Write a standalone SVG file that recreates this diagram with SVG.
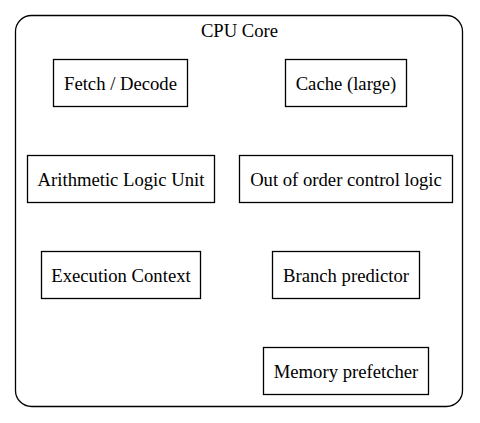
<svg xmlns="http://www.w3.org/2000/svg" width="480" height="423" viewBox="0 0 480 423">
<style>
.box{fill:#fff;stroke:#000;stroke-width:1.3}
.lbl{font-family:"Liberation Serif","Times New Roman",serif;font-size:18.67px;fill:#000;text-anchor:middle}
</style>
<rect width="480" height="423" fill="#fff"/>
<g id="cpu-core">
<rect x="15.5" y="15.5" width="447" height="391" rx="16" ry="16" fill="none" stroke="#000" stroke-width="1.3"/>
<text class="lbl" x="239.5" y="37">CPU Core</text>
</g>
<g id="connectors"></g>
<g id="fetch-decode">
<rect class="box" x="53.5" y="59.5" width="134" height="47"/>
<text class="lbl" x="120.5" y="89.5">Fetch / Decode</text>
</g>
<g id="cache">
<rect class="box" x="285.5" y="59.5" width="121" height="47"/>
<text class="lbl" x="346" y="89.5">Cache (large)</text>
</g>
<g id="alu">
<rect class="box" x="27.5" y="155.5" width="187" height="47"/>
<text class="lbl" x="121" y="185.5">Arithmetic Logic Unit</text>
</g>
<g id="ooo">
<rect class="box" x="239.5" y="155.5" width="213" height="47"/>
<text class="lbl" x="346" y="185.5">Out of order control logic</text>
</g>
<g id="exec-context">
<rect class="box" x="41.5" y="251.5" width="159" height="47"/>
<text class="lbl" x="121" y="281.5">Execution Context</text>
</g>
<g id="branch-predictor">
<rect class="box" x="272.5" y="251.5" width="147" height="47"/>
<text class="lbl" x="346" y="281.5">Branch predictor</text>
</g>
<g id="memory-prefetcher">
<rect class="box" x="263.5" y="347.5" width="165" height="47"/>
<text class="lbl" x="346" y="377.5">Memory prefetcher</text>
</g>
</svg>
